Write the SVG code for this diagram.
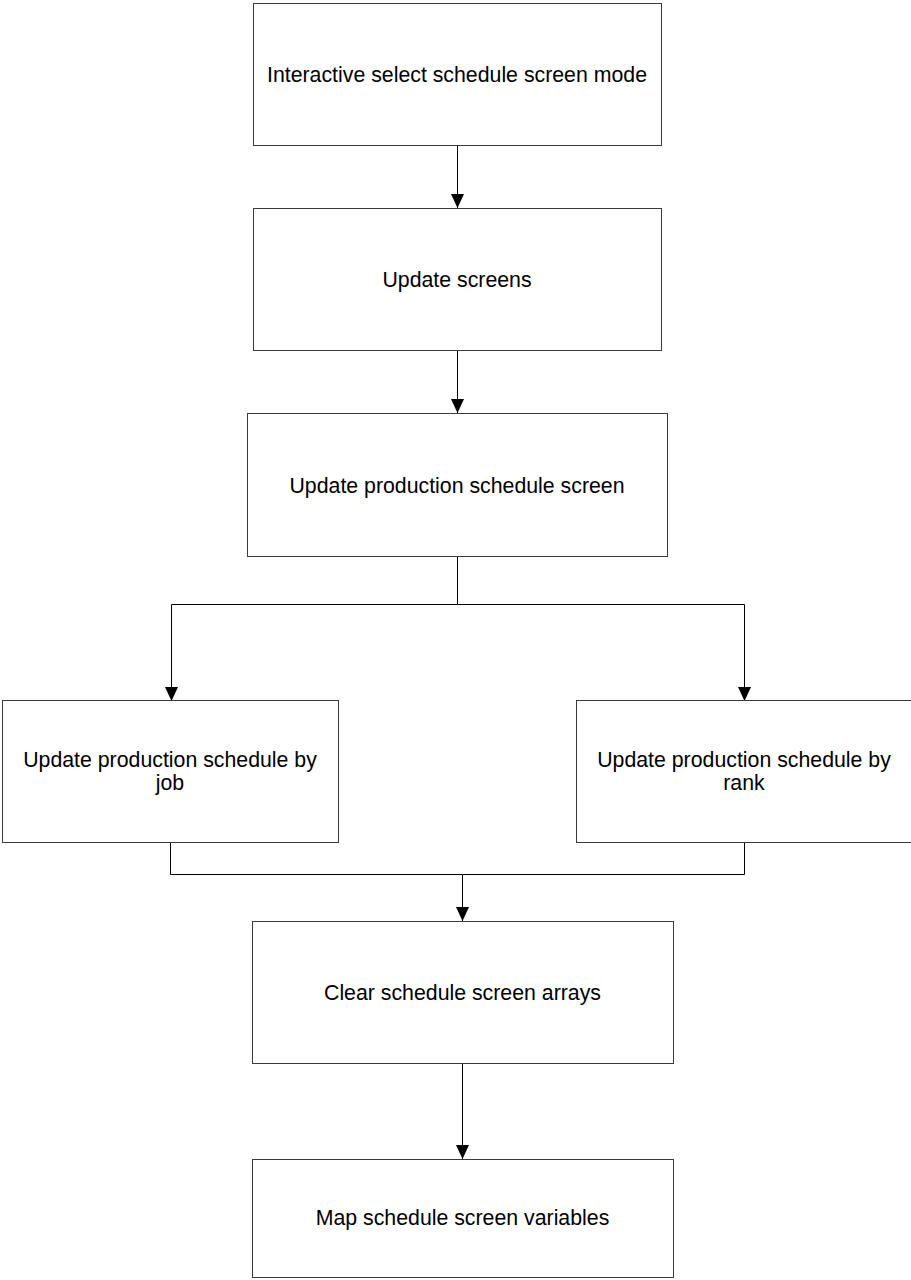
<svg xmlns="http://www.w3.org/2000/svg" width="911" height="1280" viewBox="0 0 911 1280">
  <style>
    .box { fill: #ffffff; stroke: #3a3a3a; stroke-width: 1; }
    .label { font-family: "Liberation Sans", Arial, sans-serif; font-size: 21.3px; fill: #000000; text-anchor: middle; }
    .wire { fill: none; stroke: #000000; stroke-width: 1; }
  </style>
  <defs>
    <marker id="arrow" markerUnits="userSpaceOnUse" markerWidth="14" markerHeight="13" viewBox="0 0 14 13" refX="14" refY="6.5" orient="auto">
      <path d="M0,0 L14,6.5 L0,13 Z" fill="#000000"/>
    </marker>
  </defs>
  <rect width="911" height="1280" fill="#ffffff"/>

  <g id="connectors">
    <path class="wire" d="M457.5,145 V208" marker-end="url(#arrow)"/>
    <path class="wire" d="M457.5,351 V413" marker-end="url(#arrow)"/>
    <path class="wire" d="M457.5,557 V604.5 H171.5 V701" marker-end="url(#arrow)"/>
    <path class="wire" d="M457.5,604.5 H744.5 V701" marker-end="url(#arrow)"/>
    <path class="wire" d="M170.5,843 V874.5 H462.5 V921" marker-end="url(#arrow)"/>
    <path class="wire" d="M744.5,843 V874.5 H462.5"/>
    <path class="wire" d="M462.5,1064 V1159" marker-end="url(#arrow)"/>
  </g>

  <g id="select-mode">
    <rect class="box" x="253.5" y="3.5" width="408" height="142"/>
    <text class="label" x="457" y="81.5">Interactive select schedule screen mode</text>
  </g>

  <g id="update-screens">
    <rect class="box" x="253.5" y="208.5" width="408" height="142"/>
    <text class="label" x="457" y="287">Update screens</text>
  </g>

  <g id="update-production-screen">
    <rect class="box" x="247.5" y="413.5" width="420" height="143"/>
    <text class="label" x="457" y="492.5">Update production schedule screen</text>
  </g>

  <g id="update-by-job">
    <rect class="box" x="2.5" y="700.5" width="336" height="142"/>
    <text class="label" x="170" y="767">Update production schedule by</text>
    <text class="label" x="170" y="790">job</text>
  </g>

  <g id="update-by-rank">
    <rect class="box" x="576.5" y="700.5" width="336" height="142"/>
    <text class="label" x="744" y="767">Update production schedule by</text>
    <text class="label" x="744" y="790">rank</text>
  </g>

  <g id="clear-arrays">
    <rect class="box" x="252.5" y="921.5" width="421" height="142"/>
    <text class="label" x="462.5" y="1000">Clear schedule screen arrays</text>
  </g>

  <g id="map-variables">
    <rect class="box" x="252.5" y="1159.5" width="421" height="118"/>
    <text class="label" x="462.5" y="1225">Map schedule screen variables</text>
  </g>
</svg>
